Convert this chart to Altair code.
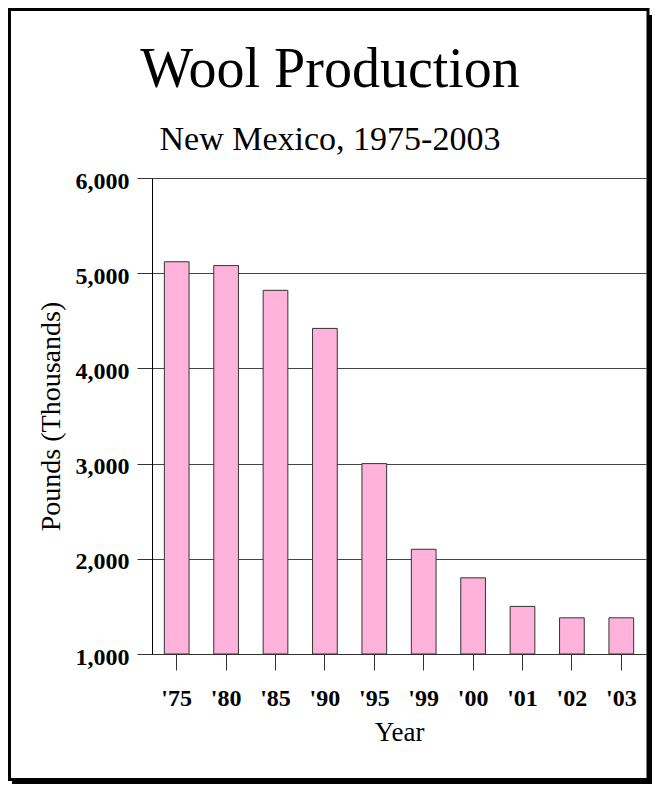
import altair as alt
import pandas as pd

# ---- data ----
years = ["'75", "'80", "'85", "'90", "'95", "'99", "'00", "'01", "'02", "'03"]
pounds = [5120, 5080, 4820, 4420, 3000, 2100, 1800, 1500, 1380, 1380]
y_ticks = [1000, 2000, 3000, 4000, 5000, 6000]

title_text = "Wool Production"
subtitle_text = "New Mexico, 1975-2003"
x_title = "Year"
y_title = "Pounds (Thousands)"

df = pd.DataFrame({"year": years, "pounds": pounds})
one = pd.DataFrame({"k": [0]})

SERIF = "Liberation Serif"
W, H = 494, 476

bars = alt.Chart(df).mark_bar(fill="#ffb3da", stroke="#333333", strokeWidth=1).encode(
    x=alt.X(
        "year:N",
        sort=years,
        title=x_title,
        scale=alt.Scale(paddingInner=0.5, paddingOuter=0.25),
        axis=alt.Axis(
            labelAngle=0,
            tickSize=16,
            labelPadding=16,
            grid=False,
            titleX=W / 2,
            titleY=86,
            titleBaseline="alphabetic",
            titleAlign="center",
            titleFontSize=27,
        ),
    ),
    y=alt.Y(
        "pounds:Q",
        title=y_title,
        scale=alt.Scale(domain=[1000, 6000], zero=False, nice=False),
        axis=alt.Axis(
            values=y_ticks,
            format=",d",
            tickSize=15,
            labelPadding=8,
            labelOffset=3,
            grid=True,
            domainColor="black",
            titleAngle=270,
            titleX=-93,
            titleY=H / 2,
            titleBaseline="alphabetic",
            titleAlign="center",
            titleFontSize=28,
        ),
    ),
    y2=alt.datum(1000),
)

# decorative frame with drop shadow (pixel positions relative to the plot area)
frame = alt.Chart(one).mark_rect(filled=False, stroke="black", strokeWidth=3).encode(
    x=alt.value(-142.5), x2=alt.value(496), y=alt.value(-168.5), y2=alt.value(601.5)
)
shadow_r = alt.Chart(one).mark_rect(fill="black").encode(
    x=alt.value(497), x2=alt.value(500), y=alt.value(-163), y2=alt.value(606)
)
shadow_b = alt.Chart(one).mark_rect(fill="black").encode(
    x=alt.value(-140), x2=alt.value(500), y=alt.value(602.5), y2=alt.value(606)
)

chart = (
    alt.layer(shadow_r, shadow_b, frame, bars)
    .properties(
        width=W,
        height=H,
        padding=0,
        background="white",
        title=alt.TitleParams(
            text=title_text,
            subtitle=subtitle_text,
            font=SERIF,
            fontSize=56,
            fontWeight="normal",
            color="black",
            subtitleFont=SERIF,
            subtitleFontSize=34,
            subtitleColor="black",
            subtitlePadding=24,
            anchor="middle",
            frame="bounds",
            offset=-150,
        ),
    )
    .configure_view(strokeWidth=0)
    .configure_axis(
        labelFont=SERIF,
        labelFontSize=24,
        labelFontWeight="bold",
        labelColor="black",
        titleFont=SERIF,
        titleFontWeight="normal",
        titleColor="black",
        tickColor="#333333",
        domainColor="#333333",
        gridColor="#444444",
    )
)

chart.save("out.html", embed_options={"renderer": "svg", "actions": False})
